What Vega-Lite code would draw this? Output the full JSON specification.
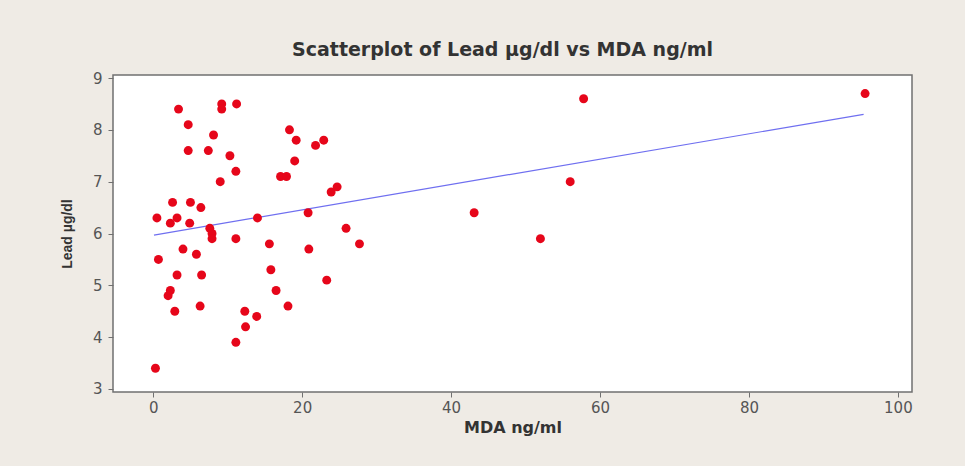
{
  "$schema": "https://vega.github.io/schema/vega-lite/v6.json",
  "width": 799,
  "height": 317,
  "autosize": {"type": "none"},
  "padding": {"left": 113, "top": 75, "right": 53, "bottom": 74},
  "background": "#EFEBE5",
  "config": {
    "view": {"fill": "#FFFFFF", "stroke": "#707070", "strokeWidth": 1.5},
    "font": "DejaVu Sans"
  },
  "title": {
    "text": "Scatterplot of Lead µg/dl vs MDA ng/ml",
    "font": "DejaVu Sans",
    "fontSize": 19,
    "fontWeight": "bold",
    "color": "#333333",
    "anchor": "middle",
    "dx": -10,
    "offset": 11
  },
  "datasets": {
    "points": [
      {"mda": 0.3, "lead": 3.4}, {"mda": 0.5, "lead": 6.3}, {"mda": 0.7, "lead": 5.5},
      {"mda": 2.0, "lead": 4.8}, {"mda": 2.3, "lead": 4.9}, {"mda": 2.3, "lead": 6.2},
      {"mda": 2.6, "lead": 6.6}, {"mda": 2.9, "lead": 4.5}, {"mda": 3.2, "lead": 5.2},
      {"mda": 3.2, "lead": 6.3}, {"mda": 3.4, "lead": 8.4}, {"mda": 4.0, "lead": 5.7},
      {"mda": 4.7, "lead": 8.1}, {"mda": 4.7, "lead": 7.6}, {"mda": 4.9, "lead": 6.2},
      {"mda": 5.0, "lead": 6.6}, {"mda": 5.8, "lead": 5.6}, {"mda": 6.3, "lead": 4.6},
      {"mda": 6.4, "lead": 6.5}, {"mda": 6.5, "lead": 5.2}, {"mda": 7.4, "lead": 7.6},
      {"mda": 7.6, "lead": 6.1}, {"mda": 7.9, "lead": 6.0}, {"mda": 7.9, "lead": 5.9},
      {"mda": 8.1, "lead": 7.9}, {"mda": 9.0, "lead": 7.0}, {"mda": 9.2, "lead": 8.5},
      {"mda": 9.2, "lead": 8.4}, {"mda": 10.3, "lead": 7.5}, {"mda": 11.1, "lead": 7.2},
      {"mda": 11.2, "lead": 8.5}, {"mda": 11.1, "lead": 5.9}, {"mda": 11.1, "lead": 3.9},
      {"mda": 12.3, "lead": 4.5}, {"mda": 12.4, "lead": 4.2}, {"mda": 13.9, "lead": 4.4},
      {"mda": 14.0, "lead": 6.3}, {"mda": 15.6, "lead": 5.8}, {"mda": 15.8, "lead": 5.3},
      {"mda": 16.5, "lead": 4.9}, {"mda": 17.1, "lead": 7.1}, {"mda": 17.9, "lead": 7.1},
      {"mda": 18.1, "lead": 4.6}, {"mda": 18.3, "lead": 8.0}, {"mda": 19.0, "lead": 7.4},
      {"mda": 19.2, "lead": 7.8}, {"mda": 20.8, "lead": 6.4}, {"mda": 20.9, "lead": 5.7},
      {"mda": 21.8, "lead": 7.7}, {"mda": 22.9, "lead": 7.8}, {"mda": 23.3, "lead": 5.1},
      {"mda": 23.9, "lead": 6.8}, {"mda": 24.7, "lead": 6.9}, {"mda": 25.9, "lead": 6.1},
      {"mda": 27.7, "lead": 5.8}, {"mda": 43.1, "lead": 6.4}, {"mda": 52.0, "lead": 5.9},
      {"mda": 56.0, "lead": 7.0}, {"mda": 57.8, "lead": 8.6}, {"mda": 95.6, "lead": 8.7}
    ],
    "fit": [
      {"mda": 0.1, "lead": 5.97},
      {"mda": 95.4, "lead": 8.30}
    ]
  },
  "layer": [
    {
      "data": {"name": "fit"},
      "mark": {"type": "line", "color": "#6F6FF0", "strokeWidth": 1.2},
      "encoding": {
        "x": {"field": "mda", "type": "quantitative"},
        "y": {"field": "lead", "type": "quantitative"}
      }
    },
    {
      "data": {"name": "points"},
      "mark": {"type": "point", "shape": "circle", "filled": true, "size": 80, "color": "#E6061A", "opacity": 1},
      "encoding": {
        "x": {
          "field": "mda", "type": "quantitative",
          "scale": {"domain": [-5.4, 101.9], "nice": false, "zero": false},
          "axis": {
            "title": "MDA ng/ml", "values": [0, 20, 40, 60, 80, 100],
            "grid": false, "domain": false, "tickColor": "#707070", "tickSize": 5,
            "labelFont": "DejaVu Sans", "labelFontSize": 15, "labelColor": "#555555", "labelPadding": 3,
            "titleFont": "DejaVu Sans", "titleFontSize": 16, "titleFontWeight": "bold", "titleColor": "#333333", "titlePadding": 4
          }
        },
        "y": {
          "field": "lead", "type": "quantitative",
          "scale": {"domain": [2.942, 9.058], "nice": false, "zero": false},
          "axis": {
            "title": "Lead µg/dl", "values": [3, 4, 5, 6, 7, 8, 9],
            "grid": false, "domain": false, "tickColor": "#707070", "tickSize": 5,
            "labelFont": "DejaVu Sans", "labelFontSize": 15, "labelColor": "#555555", "labelPadding": 6,
            "titleFont": "Liberation Sans", "titleFontSize": 14, "titleFontWeight": "bold", "titleColor": "#333333", "titlePadding": 18
          }
        }
      }
    }
  ]
}
